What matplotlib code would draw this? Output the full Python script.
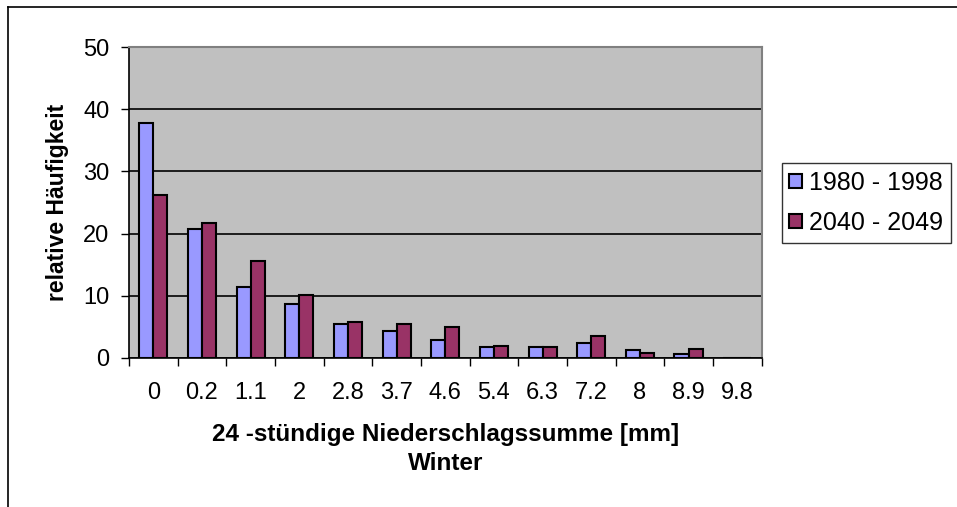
import numpy as np
import matplotlib.pyplot as plt
from matplotlib.lines import Line2D

# Kategorien (24-stuendige Niederschlagssumme in mm)
categories = ["0", "0.2", "1.1", "2", "2.8", "3.7", "4.6", "5.4", "6.3", "7.2", "8", "8.9", "9.8"]
past = [37.8, 20.8, 11.4, 8.7, 5.5, 4.3, 2.85, 1.7, 1.7, 2.35, 1.2, 0.6, 0.0]
future = [26.2, 21.7, 15.6, 10.2, 5.8, 5.5, 4.9, 2.0, 1.7, 3.5, 0.8, 1.45, 0.0]
series_names = ["1980 - 1998", "2040 - 2049"]

plt.rcParams['font.family'] = ['Liberation Sans', 'DejaVu Sans']

fig = plt.figure(figsize=(9.57, 5.07), dpi=100)
ax = fig.add_axes([0.1348, 0.294, 0.661, 0.613])

x = np.arange(len(categories))
w = 0.29
ax.bar(x - w / 2, past, w, color='#9999FF', edgecolor='black', linewidth=1.5, label=series_names[0])
ax.bar(x + w / 2, future, w, color='#993366', edgecolor='black', linewidth=1.5, label=series_names[1])

ax.set_facecolor('#C0C0C0')
ax.set_xlim(-0.5, len(categories) - 0.5)
ax.set_ylim(0, 50)
ax.set_yticks([0, 10, 20, 30, 40, 50])
ax.yaxis.grid(True, color='black', linewidth=1.2)
ax.set_axisbelow(True)

ax.set_xticks(x)
ax.set_xticklabels(categories)
ax.set_xticks(np.arange(len(categories) + 1) - 0.5, minor=True)
ax.tick_params(axis='x', which='major', length=0, pad=17, labelsize=17)
ax.tick_params(axis='x', which='minor', length=6, width=1, direction='out')
ax.tick_params(axis='y', length=6, width=1, direction='out', pad=8, labelsize=17)

for s in ['top', 'right']:
    ax.spines[s].set_color('#808080')
    ax.spines[s].set_linewidth(1.5)
ax.spines['left'].set_linewidth(1.2)
ax.spines['bottom'].set_linewidth(1.2)

ax.set_ylabel('relative Häufigkeit', fontsize=16.5, fontweight='bold', labelpad=10)
ax.set_xlabel('24 -stündige Niederschlagssumme [mm]\nWinter', fontsize=17.5, fontweight='bold',
              labelpad=14, linespacing=1.35)

leg = ax.legend(loc='upper left', bbox_to_anchor=(1.032, 0.627), fontsize=18, frameon=True,
                fancybox=False, edgecolor='black', handlelength=0.5, handleheight=0.5,
                handletextpad=0.3, borderpad=0.3, labelspacing=0.66, borderaxespad=0)
leg.get_frame().set_linewidth(1.0)

# Rahmen oben und links
fig.add_artist(Line2D([8 / 957, 1], [1 - 7 / 507, 1 - 7 / 507], color='black', linewidth=1.2))
fig.add_artist(Line2D([8 / 957, 8 / 957], [0, 1 - 7 / 507], color='black', linewidth=1.2))

fig.savefig('out.png', dpi=100)
